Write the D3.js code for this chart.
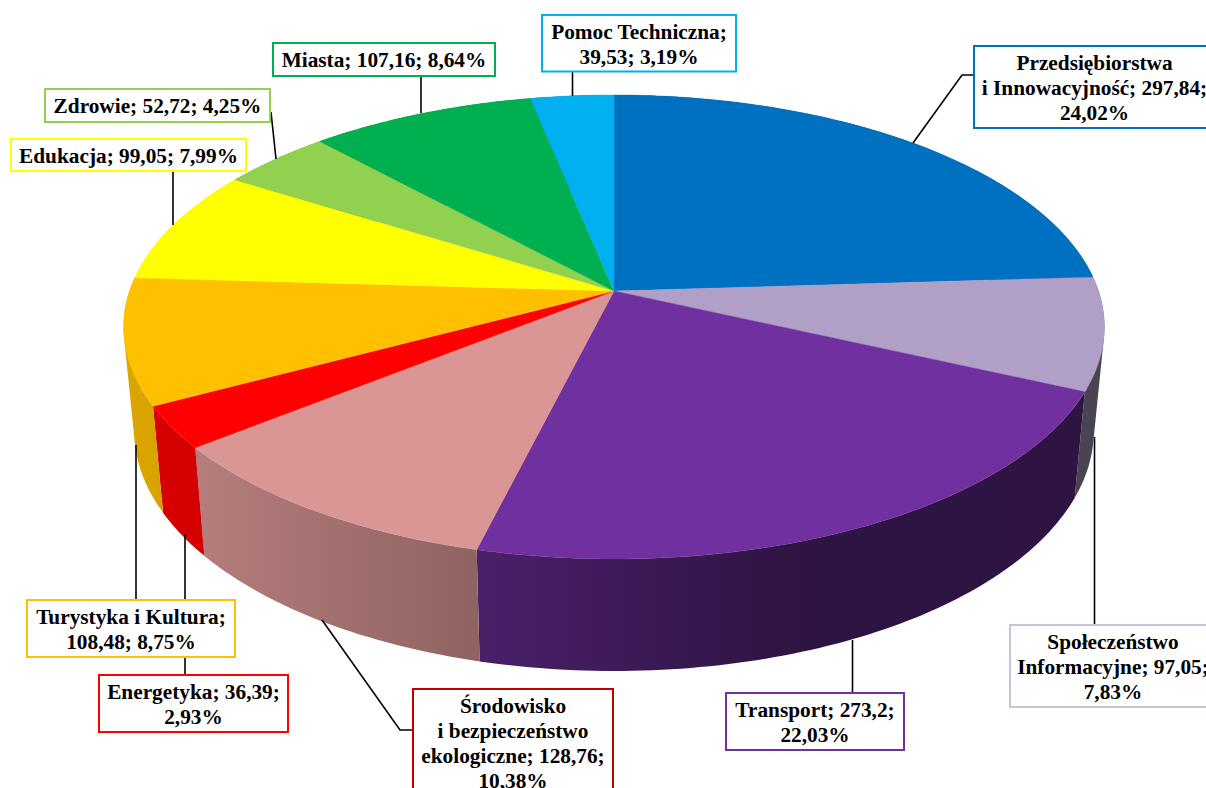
<!DOCTYPE html>
<html>
<head>
<meta charset="utf-8">
<script src="https://cdn.jsdelivr.net/npm/d3@7"></script>
<style>
  html, body { margin: 0; padding: 0; background: #fff; overflow: hidden; }
</style>
</head>
<body>
<div id="chart"></div>
<script>
// chart values, clockwise from 12 o'clock
const categories = ["Przedsiębiorstwa i Innowacyjność", "Społeczeństwo Informacyjne", "Transport",
  "Środowisko i bezpieczeństwo ekologiczne", "Energetyka", "Turystyka i Kultura",
  "Edukacja", "Zdrowie", "Miasta", "Pomoc Techniczna"];
const values = [297.84, 97.05, 273.2, 128.76, 36.39, 108.48, 99.05, 52.72, 107.16, 39.53];
const sliceColors = ["#0070C0", "#B09FC6", "#7030A0", "#D99694", "#FF0000", "#FFC000", "#FFFF00", "#92D050", "#00B050", "#00B0F0"];

// label text, one entry per line, same order as categories
const labelLines = [
  ["Przedsiębiorstwa", "i Innowacyjność; 297,84;", "24,02%"],
  ["Społeczeństwo", "Informacyjne; 97,05;", "7,83%"],
  ["Transport; 273,2;", "22,03%"],
  ["Środowisko", "i bezpieczeństwo", "ekologiczne; 128,76;", "10,38%"],
  ["Energetyka; 36,39;", "2,93%"],
  ["Turystyka i Kultura;", "108,48; 8,75%"],
  ["Edukacja; 99,05; 7,99%"],
  ["Zdrowie; 52,72; 4,25%"],
  ["Miasta; 107,16; 8,64%"],
  ["Pomoc Techniczna;", "39,53; 3,19%"]
];

// label boxes and their leader lines, placed by hand (some run off the page like the original)
const labelBoxes = [
  { x0: 974, x1: 1215, y0: 46, y1: 128, stroke: "#0070C0", leader: [[913, 143], [962, 75], [974, 75]] },
  { x0: 1010, x1: 1216, y0: 625, y1: 707, stroke: "#CCC1DA", leader: [[1094.5, 437], [1094.5, 625]] },
  { x0: 726, x1: 904, y0: 693, y1: 750, stroke: "#7030A0", leader: [[852.5, 640], [852.5, 693]] },
  { x0: 413, x1: 613, y0: 689, y1: 812, stroke: "#C00000", leader: [[322, 620], [400, 730], [413, 730]] },
  { x0: 99, x1: 288, y0: 675, y1: 732, stroke: "#FF0000", leader: [[185, 534], [185, 675]] },
  { x0: 27, x1: 235, y0: 600, y1: 657, stroke: "#FFC000", leader: [[136, 445], [136, 600]] },
  { x0: 11, x1: 246, y0: 139, y1: 171, stroke: "#FFFF00", leader: [[173, 172], [173, 225]] },
  { x0: 45, x1: 270, y0: 89, y1: 122, stroke: "#92D050", leader: [[271, 112], [276, 159]] },
  { x0: 273, x1: 495, y0: 43, y1: 76, stroke: "#00B050", leader: [[421, 76], [421, 113]] },
  { x0: 542, x1: 736, y0: 15, y1: 71.5, stroke: "#00B0F0", leader: [[572.5, 72], [572.5, 96]] }
];

const width = 1206,
  height = 788,
  lineHeight = 25;

// perspective view of the disc: k pulls the near edge towards the viewer
const perspective = 0.155;
const topRim = { cx: 614, cy: 291, a: 484.5, b: 226.4 };
const bottomRim = { cx: 614, cy: 393.5, a: 474, b: 234.5 };

function project(rim, angle) {
  const u = Math.sin(angle),
    v = -Math.cos(angle),
    w = 1 - perspective * v;
  return [rim.cx + rim.a * u / w, rim.cy + rim.b * v / w];
}

// side wall gets darker going from left to right
const wallShade = d3.scaleLinear()
  .domain([130, 200, 480, 800, 1100])
  .range([0.86, 0.83, 0.66, 0.41, 0.42])
  .clamp(true);

function shaded(color, x) {
  const c = d3.rgb(color), s = wallShade(x);
  return d3.rgb(c.r * s, c.g * s, c.b * s).formatRgb();
}

const svg = d3.select("#chart")
  .append("svg")
  .attr("width", width)
  .attr("height", height)
  .style("display", "block");

const defs = svg.append("defs");

const slices = d3.pie().sort(null).value(d => d)(values);
const step = Math.PI / 180;

function sampleAngles(d) {
  const n = Math.max(2, Math.ceil((d.endAngle - d.startAngle) / step));
  return d3.range(n + 1).map(i => d.startAngle + (d.endAngle - d.startAngle) * i / n);
}

// walls first: narrow quads joined into one path per slice (no seams), gradient along x
const walls = svg.append("g").attr("class", "walls");
slices.forEach((d, i) => {
  const angles = sampleAngles(d);
  const topPts = angles.map(a => project(topRim, a));
  const bottomPts = angles.map(a => project(bottomRim, a));
  const [xMin, xMax] = d3.extent(topPts.concat(bottomPts), p => p[0]);

  const grad = defs.append("linearGradient")
    .attr("id", "wall" + i)
    .attr("gradientUnits", "userSpaceOnUse")
    .attr("x1", xMin).attr("x2", xMax)
    .attr("y1", 0).attr("y2", 0);
  d3.range(9).forEach(s => {
    grad.append("stop")
      .attr("offset", s / 8)
      .attr("stop-color", shaded(sliceColors[i], xMin + (xMax - xMin) * s / 8));
  });

  const quads = d3.range(angles.length - 1).map(k => {
    const quad = [topPts[k], topPts[k + 1], bottomPts[k + 1], bottomPts[k]];
    // same winding for all of them or nonzero fill would cancel where they overlap
    if (d3.polygonArea(quad) < 0) quad.reverse();
    return d3.line()(quad) + "Z";
  });

  walls.append("path")
    .attr("d", quads.join(""))
    .attr("fill", `url(#wall${i})`);
});

// top of the pie
svg.append("g")
  .attr("class", "slices")
  .selectAll("path")
  .data(slices)
  .join("path")
  .attr("d", d => d3.line()([[topRim.cx, topRim.cy], ...sampleAngles(d).map(a => project(topRim, a))]) + "Z")
  .attr("fill", (d, i) => sliceColors[i])
  .attr("stroke", (d, i) => sliceColors[i])
  .attr("stroke-width", 0.4);

// leader lines go under the boxes
svg.append("g")
  .attr("class", "leaders")
  .selectAll("path")
  .data(labelBoxes)
  .join("path")
  .attr("d", d => d3.line()(d.leader))
  .attr("fill", "none")
  .attr("stroke", "#000")
  .attr("stroke-width", 1.6);

const labels = svg.append("g")
  .attr("class", "labels")
  .selectAll("g")
  .data(labelBoxes)
  .join("g");

labels.append("rect")
  .attr("x", d => d.x0)
  .attr("y", d => d.y0)
  .attr("width", d => d.x1 - d.x0)
  .attr("height", d => d.y1 - d.y0)
  .attr("fill", "#fff")
  .attr("stroke", d => d.stroke)
  .attr("stroke-width", 2);

labels.each(function (d, i) {
  const lines = labelLines[i];
  const top = d.y0 + 23.5;
  d3.select(this).selectAll("text")
    .data(lines)
    .join("text")
    .attr("x", (d.x0 + d.x1) / 2)
    .attr("y", (l, j) => top + j * lineHeight)
    .attr("text-anchor", "middle")
    .style("font-family", "'Liberation Serif', serif")
    .style("font-weight", "bold")
    .style("font-size", "21.3px")
    .style("fill", "#000")
    .text(l => l);
});
</script>
</body>
</html>
